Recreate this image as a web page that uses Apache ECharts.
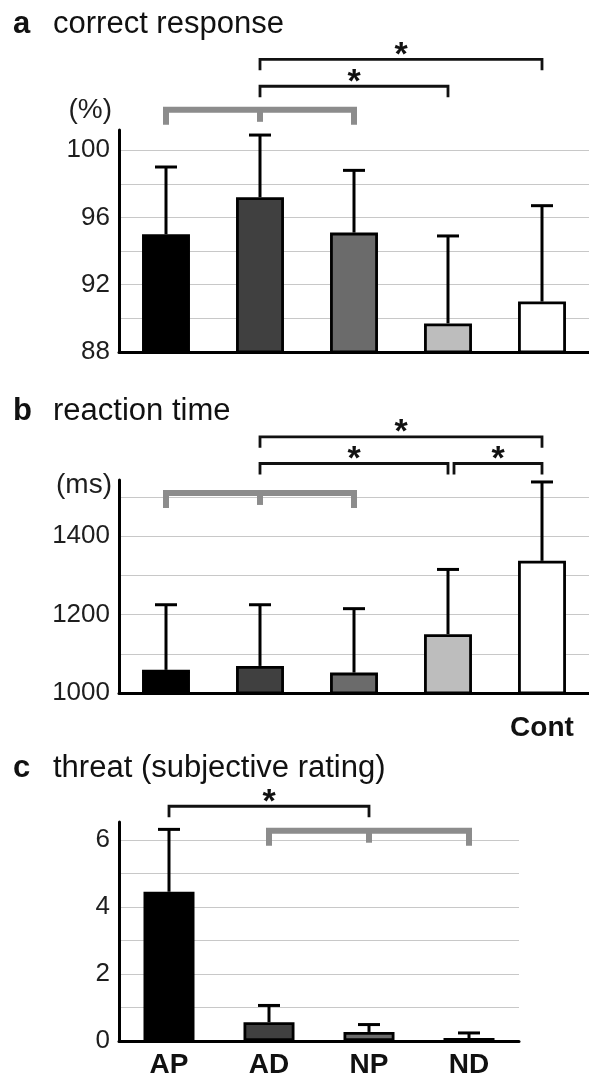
<!DOCTYPE html>
<html>
<head>
<meta charset="utf-8">
<script src="https://cdn.jsdelivr.net/npm/echarts@6/dist/echarts.min.js"></script>
<style>
  html, body { margin: 0; padding: 0; background: #fff; }
  #chart { width: 589px; height: 1079px; }
</style>
</head>
<body>
<div id="chart"></div>
<script>
// groups (panel c has no control group)
const groups = ['AP', 'AD', 'NP', 'ND', 'Cont'];
const groupsC = ['AP', 'AD', 'NP', 'ND'];

// a: correct response (%)
const correctMean = [95.0, 97.2, 95.1, 89.7, 91.0];
const correctSD = [4.0, 3.7, 3.7, 5.2, 5.7];
// b: reaction time (ms)
const rtMean = [1059, 1069, 1052, 1150, 1337];
const rtSD = [166, 156, 163, 165, 201];
// c: threat (subjective rating)
const threatMean = [4.45, 0.56, 0.27, 0.09];
const threatSD = [1.86, 0.50, 0.22, 0.15];

// brackets: [from, to, level, middle tick index (-1 = none), star]
const sigA = [[1, 4, 105.4, -1, 1], [1, 3, 103.8, -1, 1]];
const nsA = [[0, 2, 102.4, 1, 0]];
const sigB = [[1, 4, 1653, -1, 1], [1, 3, 1585, -1, 1], [3, 4, 1585, -1, 1]];
const nsB = [[0, 2, 1510, 1, 0]];
const sigC = [[0, 2, 7.0, -1, 1]];
const nsC = [[1, 3, 6.27, 2, 0]];

const barColors = ['#000000', '#404040', '#6b6b6b', '#bdbdbd', '#ffffff'];
const FONT = 'Liberation Sans, Arial, sans-serif';

const chart = echarts.init(document.getElementById('chart'));

function barData(means) {
  return means.map((v, i) => ({ value: v, itemStyle: { color: barColors[i] } }));
}

function errData(means, sd) {
  return means.map((m, i) => [i, m, m + sd[i]]);
}

function renderErr(params, api) {
  const top = api.coord([api.value(0), api.value(1)]);
  const hi = api.coord([api.value(0), api.value(2)]);
  const st = { stroke: '#000', lineWidth: 3 };
  return {
    type: 'group',
    children: [
      { type: 'line', shape: { x1: top[0], y1: top[1], x2: hi[0], y2: hi[1] }, style: st },
      { type: 'line', shape: { x1: hi[0] - 11, y1: hi[1], x2: hi[0] + 11, y2: hi[1] }, style: st }
    ]
  };
}

// bracket drawing, black = significant, grey = n.s.
function bracketRenderer(list, color, width, drop) {
  return function (params, api) {
    const from = api.value(0), to = api.value(1), level = api.value(2);
    const mid = api.value(3), star = api.value(4);
    const p0 = api.coord([from, level]);
    const p1 = api.coord([to, level]);
    let x0 = p0[0];
    const x1 = p1[0], y = p0[1];
    // start a little to the right when another bracket ends here
    if (list.some(b => b !== list[params.dataIndex] && b[1] === from && b[2] === level)) x0 += 6;
    const st = { stroke: color, lineWidth: width, fill: null, lineJoin: 'miter' };
    const children = [{
      type: 'polyline',
      shape: { points: [[x0, y + drop], [x0, y], [x1, y], [x1, y + drop]] },
      style: st
    }];
    if (mid >= 0) {
      const xm = api.coord([mid, level])[0];
      children.push({ type: 'line', shape: { x1: xm, y1: y, x2: xm, y2: y + drop - 3 }, style: st });
    }
    if (star) {
      children.push({
        type: 'text',
        x: (x0 + x1) / 2, y: y - 4,
        style: { text: '*', font: 'bold 34px ' + FONT, fill: '#111', align: 'center', verticalAlign: 'middle' }
      });
    }
    return { type: 'group', children: children };
  };
}

function yAxis(idx, min, max, interval, showLabel) {
  return {
    gridIndex: idx, type: 'value', min: min, max: max, interval: interval,
    axisLine: { show: true, lineStyle: { color: '#000', width: 3 } },
    axisTick: { show: false },
    splitLine: { show: true, showMaxLine: false, lineStyle: { color: '#c8c8c8', width: 1 } },
    axisLabel: {
      formatter: v => (showLabel(v) ? String(v) : ''),
      fontSize: 26, fontFamily: FONT, color: '#1e1e1e', margin: 9
    }
  };
}

function xAxis(idx, data, showLabel, margin) {
  return {
    gridIndex: idx, type: 'category', data: data,
    axisLine: { lineStyle: { color: '#000', width: 3 } },
    axisTick: { show: false },
    axisLabel: {
      formatter: v => (showLabel(v) ? v : ''),
      interval: 0, fontSize: 28, fontWeight: 'bold', fontFamily: FONT, color: '#111', margin: margin
    }
  };
}

function barSeries(idx, means) {
  return {
    type: 'bar', xAxisIndex: idx, yAxisIndex: idx, data: barData(means), barWidth: '51%',
    itemStyle: { borderColor: '#000', borderWidth: 2.8 }, z: 3
  };
}

function errSeries(idx, means, sd) {
  return {
    type: 'custom', xAxisIndex: idx, yAxisIndex: idx, data: errData(means, sd),
    renderItem: renderErr, encode: { x: 0, y: [1, 2] }, z: 4, silent: true
  };
}

function bracketSeries(idx, list, color, width, drop) {
  return {
    type: 'custom', xAxisIndex: idx, yAxisIndex: idx, data: list, clip: false,
    renderItem: bracketRenderer(list, color, width, drop), encode: { x: [0, 1], y: 2 }, z: 5, silent: true
  };
}

function titleText(letter, text, y) {
  return [
    { type: 'text', x: 13, y: y, style: { text: letter, font: 'bold 31px ' + FONT, fill: '#111', verticalAlign: 'middle' } },
    { type: 'text', x: 53, y: y, style: { text: text, font: '31px ' + FONT, fill: '#111', verticalAlign: 'middle' } }
  ];
}

const option = {
  animation: false,
  backgroundColor: '#fff',
  grid: [
    { left: 119, top: 130, width: 470, height: 222 },
    { left: 119, top: 480, width: 470, height: 213 },
    { left: 119, top: 822, width: 400, height: 221 }
  ],
  xAxis: [
    xAxis(0, groups, () => false, 10),
    xAxis(1, groups, v => v === 'Cont', 21),
    xAxis(2, groupsC, () => true, 10)
  ],
  yAxis: [
    yAxis(0, 88, 101.2, 2, v => (v - 88) % 4 === 0 && v <= 100),
    yAxis(1, 1000, 1543, 100, v => v % 200 === 0),
    yAxis(2, 0, 6.53, 1, v => v % 2 === 0)
  ],
  series: [
    barSeries(0, correctMean), errSeries(0, correctMean, correctSD),
    bracketSeries(0, sigA, '#111', 2.8, 11), bracketSeries(0, nsA, '#8c8c8c', 6, 15),
    barSeries(1, rtMean), errSeries(1, rtMean, rtSD),
    bracketSeries(1, sigB, '#111', 2.8, 11), bracketSeries(1, nsB, '#8c8c8c', 6, 15),
    barSeries(2, threatMean), errSeries(2, threatMean, threatSD),
    bracketSeries(2, sigC, '#111', 2.8, 11), bracketSeries(2, nsC, '#8c8c8c', 6, 15)
  ],
  graphic: [].concat(
    titleText('a', 'correct response', 24),
    titleText('b', 'reaction time', 411),
    titleText('c', 'threat (subjective rating)', 768),
    [
      { type: 'text', x: 112, y: 110, style: { text: '(%)', font: '28px ' + FONT, fill: '#1e1e1e', align: 'right', verticalAlign: 'middle' } },
      { type: 'text', x: 112, y: 485, style: { text: '(ms)', font: '28px ' + FONT, fill: '#1e1e1e', align: 'right', verticalAlign: 'middle' } }
    ]
  )
};

chart.setOption(option);
window.addEventListener('resize', () => chart.resize());
</script>
</body>
</html>
